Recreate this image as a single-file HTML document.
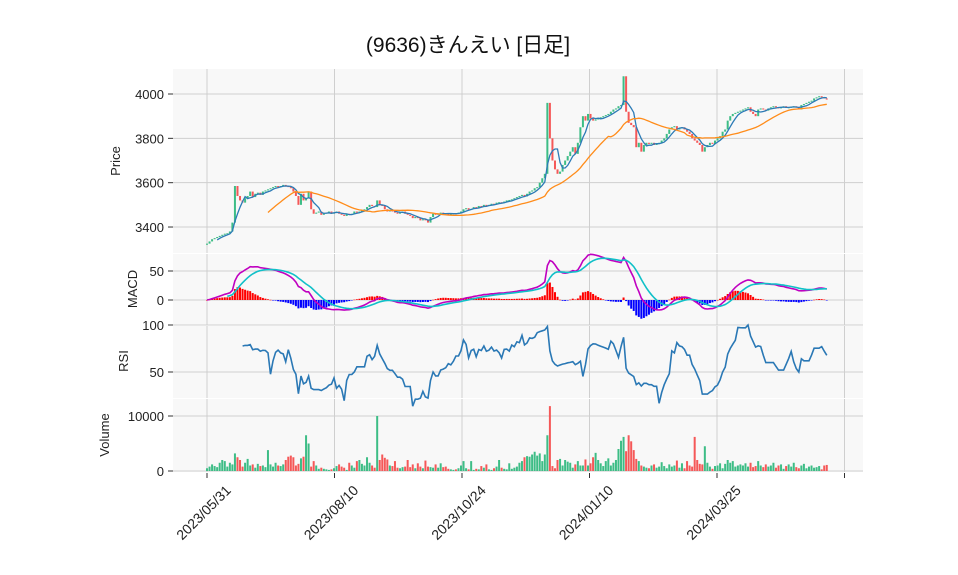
<!DOCTYPE html>
<html><head><meta charset="utf-8"><style>
body{margin:0;background:#fff}
svg{display:block;font-family:"Liberation Sans","Noto Sans CJK JP",sans-serif}
</style></head><body>
<svg id="c" width="958" height="575" viewBox="0 0 958 575">
<text x="468" y="52" font-size="21" text-anchor="middle" fill="#111">(9636)きんえい [日足]</text>
<g id="g"></g>
</svg>
<script>
const dates=["2023/05/31","2023/08/10","2023/10/24","2024/01/10","2024/03/25"];
const priceTicks=[3400,3600,3800,4000];
const macdTicks=[0,50];
const rsiTicks=[50,100];
const volTicks=[0,10000];
const closes=[3325,3335,3345,3350,3355,3360,3365,3370,3372,3380,
3420,3585,3540,3520,3510,3530,3540,3560,3535,3550,
3555,3545,3560,3565,3570,3575,3580,3585,3580,3585,
3590,3585,3580,3575,3560,3540,3500,3550,3520,3530,
3560,3480,3460,3465,3470,3455,3460,3465,3470,3460,
3465,3470,3460,3455,3450,3460,3455,3460,3470,3465,
3470,3475,3480,3490,3500,3495,3490,3520,3500,3495,
3480,3470,3475,3470,3465,3460,3465,3470,3460,3455,
3450,3440,3445,3440,3430,3435,3430,3420,3445,3460,
3455,3460,3465,3462,3460,3458,3460,3462,3460,3465,
3470,3480,3485,3478,3482,3490,3485,3495,3492,3500,
3495,3500,3505,3502,3510,3512,3508,3515,3520,3522,
3525,3530,3535,3540,3545,3538,3550,3560,3565,3575,
3580,3600,3620,3640,3960,3800,3700,3660,3640,3650,
3680,3700,3720,3740,3760,3730,3780,3850,3900,3880,
3910,3890,3880,3885,3890,3895,3900,3905,3910,3920,
3930,3935,3945,3950,4080,3920,3870,3860,3850,3760,
3780,3740,3770,3780,3775,3780,3770,3775,3780,3790,
3800,3820,3840,3850,3855,3840,3845,3850,3840,3830,
3820,3800,3790,3780,3770,3740,3760,3770,3780,3775,
3790,3800,3810,3830,3840,3880,3900,3910,3915,3920,
3925,3930,3935,3940,3920,3910,3900,3930,3935,3930,
3925,3935,3940,3945,3940,3935,3940,3945,3938,3940,
3942,3945,3940,3930,3950,3955,3960,3965,3970,3980,
3985,3990,3985,3980,3975];
const volumes=[500,800,1200,900,700,1500,2000,1800,800,1500,
1200,3200,2500,2000,800,1500,2200,1000,1200,600,
1300,900,1000,700,3800,1200,800,1500,1000,900,
1200,2000,2600,2800,2500,1000,1300,2300,2600,6500,
5000,800,1800,1000,400,600,400,300,200,300,
500,900,1200,800,600,200,1500,1000,600,1800,
2000,1300,1000,2500,1500,1000,600,10000,2000,3000,
2400,2100,1000,900,1800,600,500,700,800,2000,
700,1200,500,1400,800,500,1900,800,700,600,
1200,600,1400,700,800,400,300,200,300,500,
1000,1800,500,300,1800,200,400,300,900,600,
1200,300,200,500,800,2000,600,400,300,1400,
400,600,800,1500,1800,2500,2700,2600,3000,3500,
2800,3200,1800,3000,6500,11800,900,500,2000,2200,
1000,2000,1700,1500,600,1200,1800,1000,1000,2100,
1000,1400,2500,3300,2000,1400,900,1800,2300,1000,
1500,2000,4000,5500,6200,3600,6500,5400,3800,2200,
1800,1000,800,600,500,1000,1200,600,800,1600,
900,500,1200,800,1000,1900,600,1400,500,1800,
1000,800,6200,2000,1300,1200,4500,1500,800,400,
900,1000,1400,500,1300,2000,1500,1800,800,1000,
1200,1000,1400,800,1500,700,900,1800,1000,700,
1200,800,1000,1500,600,1000,1200,400,900,1200,
800,1500,700,500,1000,1300,500,800,1000,600,
700,900,300,1000,1100];

const NS='http://www.w3.org/2000/svg';
const g=document.getElementById('g');
function el(t,a,p){const e=document.createElementNS(NS,t);for(const k in a)e.setAttribute(k,a[k]);(p||g).appendChild(e);return e;}
const X0=173,X1=863;
const xs=i=>207+i*2.54;
const yP=v=>94+(4000-v)*0.2217;
const yM=v=>300-v*0.58;
const yR=v=>372-(v-50)*0.94;
const yV=v=>471-v*0.0055;
const panels=[[69,253,'price-panel'],[254,325,'macd-panel'],[326,398,'rsi-panel'],[399,472,'volume-panel']];
panels.forEach(p=>{const r=el('rect',{x:X0,y:p[0],width:X1-X0,height:p[1]-p[0],fill:'#f8f8f8'});

});
for(let k=0;k<6;k++){const x=207+k*127.5;
panels.forEach(p=>el('line',{x1:x,x2:x,y1:p[0],y2:p[1],stroke:'#cfcfcf','stroke-width':1}));
el('line',{x1:x,x2:x,y1:473,y2:478,stroke:'#333'});
if(k<dates.length){const t=el('text',{x:x,y:516,'font-size':14,'text-anchor':'middle',fill:'#222',transform:`rotate(-45 ${x} 516)`});t.textContent=dates[k];

}}
function hticks(arr,fy,lab){arr.forEach(v=>{const y=fy(v);el('line',{x1:X0,x2:X1,y1:y,y2:y,stroke:'#cfcfcf'});
el('line',{x1:168,x2:173,y1:y,y2:y,stroke:'#333'});
const t=el('text',{x:164,y:y+5,'font-size':13,'text-anchor':'end',fill:'#222'});t.textContent=v;

});}
hticks(priceTicks,yP,'price-tick');hticks(macdTicks,yM,'macd-tick');hticks(rsiTicks,yR,'rsi-tick');hticks(volTicks,yV,'volume-tick');
[['Price',120,161],['MACD',137,289],['RSI',128,361],['Volume',109,435]].forEach(a=>{const t=el('text',{x:a[1],y:a[2],'font-size':13,'text-anchor':'middle',fill:'#222',transform:`rotate(-90 ${a[1]} ${a[2]})`});t.textContent=a[0];

});
const UP='#3dbd86',DN='#f55858';
const N=closes.length;
for(let i=0;i<N;i++){const o=i?closes[i-1]:closes[0]-5,c=closes[i];const up=c>=o;
const top=yP(Math.max(o,c)),bot=yP(Math.min(o,c));
const r=el('rect',{x:xs(i)-1,y:top,width:2,height:Math.max(1,bot-top),fill:up?UP:DN});


const v=el('rect',{x:xs(i)-1,y:yV(volumes[i]),width:2,height:471-yV(volumes[i]),fill:up?UP:DN});

}
function path(pts,col,w,name){const d=pts.filter(p=>p).map((p,j)=>(j?'L':'M')+p[0].toFixed(1)+' '+p[1].toFixed(1)).join('');const e=el('path',{d:d,fill:'none',stroke:col,'stroke-width':w});

}
function sma(n){return closes.map((c,i)=>i<n-1?null:closes.slice(i-n+1,i+1).reduce((a,b)=>a+b)/n);}
const ma5=sma(5),ma25=sma(25);
path(ma5.map((v,i)=>v==null?null:[xs(i),yP(v)]),'#2c7bb6',1.3,'ma5-line');
path(ma25.map((v,i)=>v==null?null:[xs(i),yP(v)]),'#ff8c1a',1.3,'ma25-line');
function ema(a,n){const k=2/(n+1);const o=[];a.forEach((v,i)=>o.push(i?o[i-1]+k*(v-o[i-1]):v));return o;}
const e12=ema(closes,12),e26=ema(closes,26);
const macd=e12.map((v,i)=>v-e26[i]);const sig=ema(macd,9);
for(let i=0;i<N;i++){const h=macd[i]-sig[i];const y=yM(Math.max(h,0)),y2=yM(Math.min(h,0));
const b=el('rect',{x:xs(i)-1,y:y,width:2,height:Math.max(0.5,y2-y),fill:h>=0?'#ff0000':'#0000ff'});

}
path(macd.map((v,i)=>[xs(i),yM(v)]),'#c000c0',1.6,'macd-line');
path(sig.map((v,i)=>i<8?null:[xs(i),yM(v)]),'#10c0c8',1.6,'signal-line');
const rsi=closes.map((c,i)=>{if(i<14)return null;let gn=0,ls=0;for(let j=i-13;j<=i;j++){const d=closes[j]-closes[j-1];if(d>0)gn+=d;else ls-=d;}return ls===0?100:100-100/(1+gn/ls);});
path(rsi.map((v,i)=>v==null?null:[xs(i),yR(v)]),'#2a78b5',1.6,'rsi-line');
</script>
</body></html>
